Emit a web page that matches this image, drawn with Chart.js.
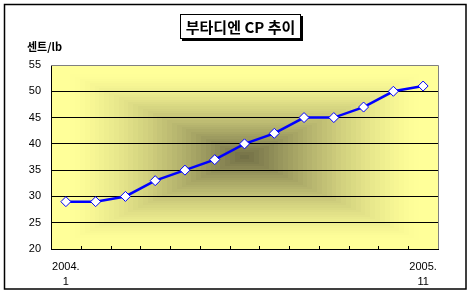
<!DOCTYPE html>
<html><head><meta charset="utf-8">
<script src="https://cdn.jsdelivr.net/npm/chart.js@4/dist/chart.umd.min.js"></script>
<style>html,body{margin:0;padding:0;background:#fff;}#wrap{width:471px;height:297px;position:relative;}</style>
</head><body><div id="wrap"><canvas id="c" width="471" height="297"></canvas></div>
<script>
const chartTitle = '부타디엔 CP 추이';
const yAxisTitle = '센트/lb';
const categories = ['2004.1','','','','','','','','','','','','2005.11'];
const values = [29, 29, 30, 33, 35, 37, 40, 42, 45, 45, 47, 50, 51];
const yMin = 20, yMax = 55, yStep = 5;

const bgPlugin = {
  id: 'bg',
  beforeDraw(chart) {
    const ctx = chart.ctx, a = chart.chartArea;
    ctx.save();
    ctx.fillStyle = '#fff';
    ctx.fillRect(0, 0, chart.width, chart.height);
    const L = a.left, R = a.right, T = a.top, B = a.bottom;
    const cx = (L + R) / 2, cy = (T + B) / 2;
    const edge = [255, 255, 153], mid = [110, 107, 68];
    const steps = 40;
    for (let i = 0; i < steps; i++) {
      const t = i / steps;
      let k = (t - 0.08) / 0.92; if (k < 0) k = 0;
      k = Math.pow(k, 1.4);
      const c = edge.map((e, j) => Math.round(e + (mid[j] - e) * k));
      ctx.fillStyle = `rgb(${c[0]},${c[1]},${c[2]})`;
      const x0 = Math.round(L + t * (cx - L)), x1 = Math.round(R - t * (R - cx));
      const y0 = Math.round(T + t * (cy - T)), y1 = Math.round(B - t * (B - cy));
      ctx.fillRect(x0, y0, Math.max(1, x1 - x0), Math.max(1, y1 - y0));
    }
    ctx.restore();
  },
  afterDraw(chart) {
    const ctx = chart.ctx, a = chart.chartArea;
    ctx.save();
    ctx.strokeStyle = '#808080'; ctx.lineWidth = 1;
    ctx.beginPath();
    ctx.moveTo(a.left, a.top + 0.5); ctx.lineTo(a.right + 0.5, a.top + 0.5); ctx.lineTo(a.right + 0.5, a.bottom);
    ctx.stroke();
    const xs = chart.scales.x;
    ctx.strokeStyle = '#000';
    ctx.beginPath();
    for (let i = 0; i < categories.length - 1; i++) {
      const px = Math.round((xs.getPixelForValue(i) + xs.getPixelForValue(i + 1)) / 2) + 0.5;
      ctx.moveTo(px, a.bottom); ctx.lineTo(px, a.bottom - 3);
    }
    ctx.stroke();
    ctx.strokeStyle = '#000'; ctx.lineWidth = 1.5;
    ctx.strokeRect(4.5, 4.5, 461.5, 284.5);
    ctx.font = 'bold 15px "Noto Sans CJK KR", sans-serif';
    ctx.textBaseline = 'middle'; ctx.textAlign = 'center';
    const bx = 180, by = 14, bw = 121, bh = 25;
    ctx.fillStyle = '#000';
    ctx.fillRect(bx + 2, by + 2, bw, bh);
    ctx.fillStyle = '#fff';
    ctx.fillRect(bx, by, bw, bh);
    ctx.lineWidth = 1;
    ctx.strokeRect(bx + 0.5, by + 0.5, bw - 1, bh - 1);
    ctx.fillStyle = '#000';
    ctx.fillText(chartTitle, bx + bw / 2, by + bh / 2 + 1);
    ctx.textAlign = 'left';
    ctx.font = 'bold 11px "Noto Sans CJK KR", sans-serif';
    ctx.fillText(yAxisTitle, 27, 47);
    ctx.restore();
  }
};

new Chart(document.getElementById('c'), {
  type: 'line',
  data: {
    labels: categories,
    datasets: [{
      data: values,
      borderColor: '#0000ff',
      borderWidth: 2.5,
      pointStyle: 'rectRot',
      pointRadius: 5,
      pointBackgroundColor: '#ffffff',
      pointBorderColor: '#0000ff',
      pointBorderWidth: 1,
      tension: 0,
      fill: false
    }]
  },
  options: {
    responsive: false,
    animation: false,
    devicePixelRatio: 1,
    layout: { padding: { left: 0, right: 33, top: 65, bottom: 0 } },
    plugins: { legend: { display: false }, tooltip: { enabled: false }, title: { display: false } },
    scales: {
      x: {
        offset: true,
        afterFit(s) { s.height = 48; },
        grid: { display: false, drawTicks: false },
        border: { display: true, color: '#000', width: 1 },
        ticks: {
          autoSkip: false, maxRotation: 0, padding: 10, color: '#000',
          font: { family: '"Liberation Sans", Arial, sans-serif', size: 11, lineHeight: 1.4 },
          callback(v, i) {
            const s = categories[i];
            if (!s) return '';
            const p = s.indexOf('.');
            return [s.slice(0, p + 1), s.slice(p + 1)];
          }
        }
      },
      y: {
        min: yMin, max: yMax,
        afterFit(s) { s.width = 51; },
        grid: { color: '#000', lineWidth: 1, drawTicks: false },
        border: { display: true, color: '#000', width: 1 },
        ticks: {
          stepSize: yStep, padding: 10, color: '#000',
          font: { family: '"Liberation Sans", Arial, sans-serif', size: 11 }
        }
      }
    }
  },
  plugins: [bgPlugin]
});
</script>
</body></html>
